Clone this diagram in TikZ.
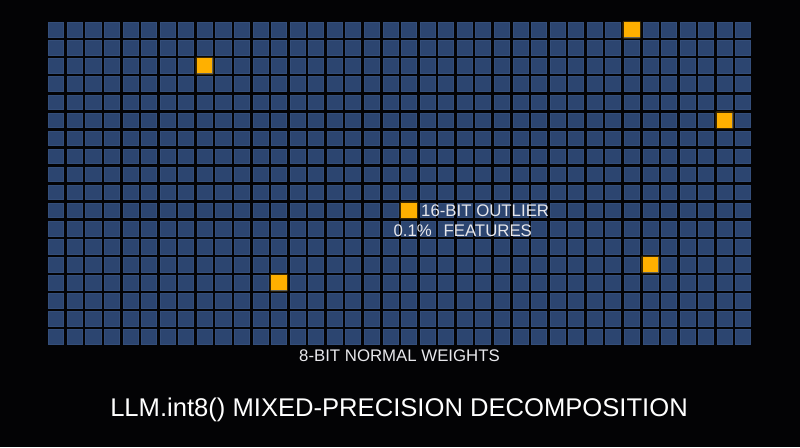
\documentclass[tikz,border=0pt]{standalone}
\usepackage{fontspec}
\setmainfont{Liberation Sans}
\definecolor{bgc}{RGB}{3,3,5}
\definecolor{cellc}{RGB}{44,69,112}
\definecolor{celledge}{RGB}{52,78,122}
\definecolor{outc}{RGB}{255,176,0}
\definecolor{txtc}{RGB}{232,232,236}
\tikzset{
  cellbox/.style={fill=cellc, draw=celledge, line width=0.5pt},
  outbox/.style={fill=outc},
  glowbox/.style={fill=outc, opacity=0.22, rounded corners=2pt},
  labeltext/.style={text=txtc, inner sep=0pt, font=\fontsize{16.8}{20}\selectfont},
  titletext/.style={text=white, inner sep=0pt, font=\fontsize{25.6}{30}\selectfont},
}
\begin{document}
\begin{tikzpicture}[x=1pt,y=-1pt]
\fill[bgc] (0,0) rectangle (800,447);
\useasboundingbox (0,0) rectangle (800,447);
\def\gx{48.3}\def\gy{22.3}\def\px{18.57}\def\py{18.06}\def\cw{15.57}\def\ch{15.06}
\foreach \c in {0,...,37}{
  \foreach \r in {0,...,17}{
    \draw[cellbox] ({\gx+\c*\px+0.25},{\gy+\r*\py+0.25}) rectangle ++(\cw-0.5,\ch-0.5);
  }
}
\foreach \c/\r in {31/0, 8/2, 36/5, 19/10, 32/13, 12/14}{
  \fill[glowbox] ({\gx+\c*\px-1.5},{\gy+\r*\py-1.5}) rectangle ++(\cw+3,\ch+3);
  \fill[outbox] ({\gx+\c*\px},{\gy+\r*\py}) rectangle ++(\cw,\ch);
}
\node[labeltext, anchor=west] (outl) at (421,211) {16-BIT OUTLIER};
\node[labeltext, anchor=west] (feat) at (393.3,230.5) {0.1\%\hspace{0.7em}FEATURES};
\node[labeltext] (norm) at (399.5,356) {8-BIT NORMAL WEIGHTS};
\node[titletext] (title) at (399,409.5) {LLM.int8() MIXED-PRECISION DECOMPOSITION};
\end{tikzpicture}
\end{document}
